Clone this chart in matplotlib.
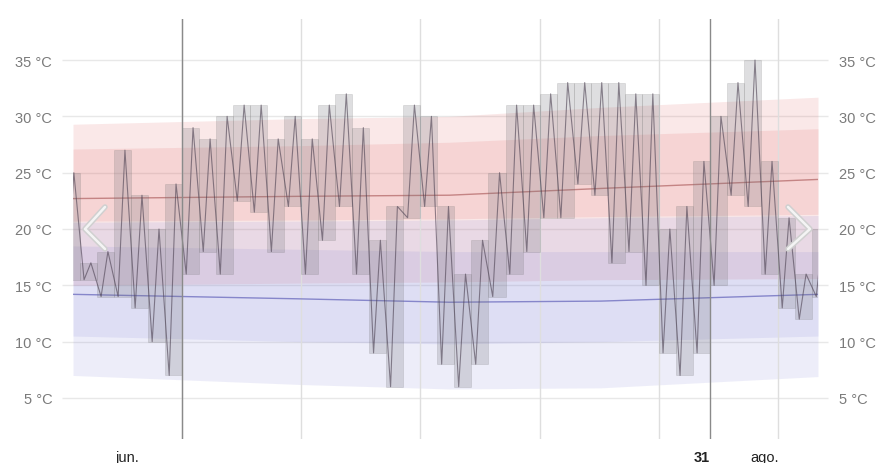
import matplotlib
matplotlib.use("Agg")
import matplotlib.pyplot as plt
import numpy as np

plt.rcParams["font.family"] = ["Liberation Sans", "DejaVu Sans"]

# daily observations (day 0 = first dark month line)
days = list(range(-7, 38))
highs = [25, 17, 18, 27, 23, 20, 24,
         29, 28, 30, 31, 31, 28, 30,
         28, 31, 32, 29, 19, 22, 31,
         30, 22, 16, 19, 25, 31, 31,
         32, 33, 33, 33, 33, 32, 32,
         20, 22, 26, 30, 33, 35, 26,
         21, 16, 20]
lows = [15.5, 15.5, 14, 14, 13, 10, 7,
        16, 18, 16, 22.5, 21.5, 18, 22,
        16, 19, 22, 16, 9, 6, 21,
        22, 8, 6, 8, 14, 16, 18,
        21, 21, 24, 23, 17, 18, 15,
        9, 7, 9, 15, 23, 22, 16,
        13, 12, 14]

# climatology bands, read at a few days across the chart
clim_days = [-6.4, 6.9, 15.7, 24.6, 37.35]
high_p90 = [29.3, 29.8, 30.0, 30.8, 31.7]
high_p75 = [27.1, 27.4, 27.7, 28.3, 28.9]
high_p50 = [22.7, 22.9, 23.0, 23.6, 24.4]
high_p25 = [20.7, 20.8, 20.9, 21.1, 21.3]
high_p10 = [15.0, 15.2, 15.3, 15.5, 15.6]
low_p90 = [20.6, 20.7, 20.8, 21.0, 21.2]
low_p75 = [18.5, 18.2, 18.0, 18.0, 18.0]
low_p50 = [14.2, 13.8, 13.5, 13.6, 14.2]
low_p25 = [10.5, 10.0, 9.8, 10.0, 10.5]
low_p10 = [7.0, 6.2, 5.8, 5.9, 6.9]

week_lines = [0, 7, 14, 21, 28, 35]
month_lines = [0, 31]
xtick_pos = [-3.2, 30.5, 34.2]
xtick_labels = ["jun.", "31", "ago."]
yticks = [5, 10, 15, 20, 25, 30, 35]

fig = plt.figure(figsize=(8.83, 4.64), dpi=100)
ax = fig.add_axes([73 / 883, 24 / 464, 745 / 883, 420 / 464])
ax.set_xlim(-6.4, 37.35)
ax.set_ylim(1.36, 38.64)
for s in ax.spines.values():
    s.set_visible(False)

# horizontal grid, a bit wider than the plot
ytr = ax.get_yaxis_transform()
ax.hlines(yticks, -0.015, 1.013, transform=ytr, colors="#e8e8e8",
          lw=1, zorder=0, clip_on=False)

# percentile bands
red = (0.88, 0.40, 0.40)
blue = (0.45, 0.45, 0.82)
ax.fill_between(clim_days, high_p10, high_p90, color=red, alpha=0.15, lw=0, zorder=1)
ax.fill_between(clim_days, high_p25, high_p75, color=red, alpha=0.15, lw=0, zorder=1)
ax.fill_between(clim_days, low_p10, low_p90, color=blue, alpha=0.12, lw=0, zorder=1)
ax.fill_between(clim_days, low_p25, low_p75, color=blue, alpha=0.12, lw=0, zorder=1)
ax.plot(clim_days, high_p50, color="#b87070", lw=1, alpha=0.8, zorder=2)
ax.plot(clim_days, low_p50, color="#7070c0", lw=1, alpha=0.8, zorder=2)

# vertical lines
for d in week_lines:
    ax.axvline(d, color="#dedede", lw=1, zorder=1.5)
for d in month_lines:
    ax.axvline(d, color="#8a8a8a", lw=1, zorder=4)

# daily min/max boxes
h = np.array(highs)
l = np.array(lows)
ax.bar(days, h - l, bottom=l, width=1, align="edge",
       facecolor=(0.45, 0.45, 0.48, 0.23), edgecolor=(0.4, 0.4, 0.4, 0.18),
       lw=0.6, zorder=3)

# hourly-ish trace: low in the morning, high in the afternoon
tx, ty = [], []
for d, lo, hi in zip(days, lows, highs):
    tx += [d + 0.25, d + 0.65]
    ty += [lo, hi]
ax.plot(tx, ty, color="#4a3f50", lw=0.8, alpha=0.6, zorder=3.5)

# ticks
ax.set_yticks(yticks)
ax.set_yticklabels([f"{v} °C" for v in yticks])
ax.tick_params(axis="y", length=0, pad=15, labelsize=10.5, labelcolor="#7a7a7a",
               left=True, right=True, labelleft=True, labelright=True)
ax.set_xticks(xtick_pos)
ax.set_xticklabels(xtick_labels)
ax.tick_params(axis="x", length=0, pad=8, labelsize=10.5, labelcolor="#222222")
for lab in ax.get_xticklabels():
    if lab.get_text() == "31":
        lab.set_fontweight("bold")

# carousel arrows
for pts in ([(105, 208), (85, 230), (105, 250)], [(788, 208), (810, 230), (788, 250)]):
    px = [(x - 73) / 745 for x, _ in pts]
    py = [(440 - y) / 420 for _, y in pts]
    ax.plot(px, py, transform=ax.transAxes, color="#d0d0d0", lw=4,
            solid_capstyle="round", zorder=6)
    ax.plot(px, py, transform=ax.transAxes, color="#f4f4f4", lw=1.8,
            solid_capstyle="round", zorder=6.1)

fig.savefig("out.png", dpi=100)
